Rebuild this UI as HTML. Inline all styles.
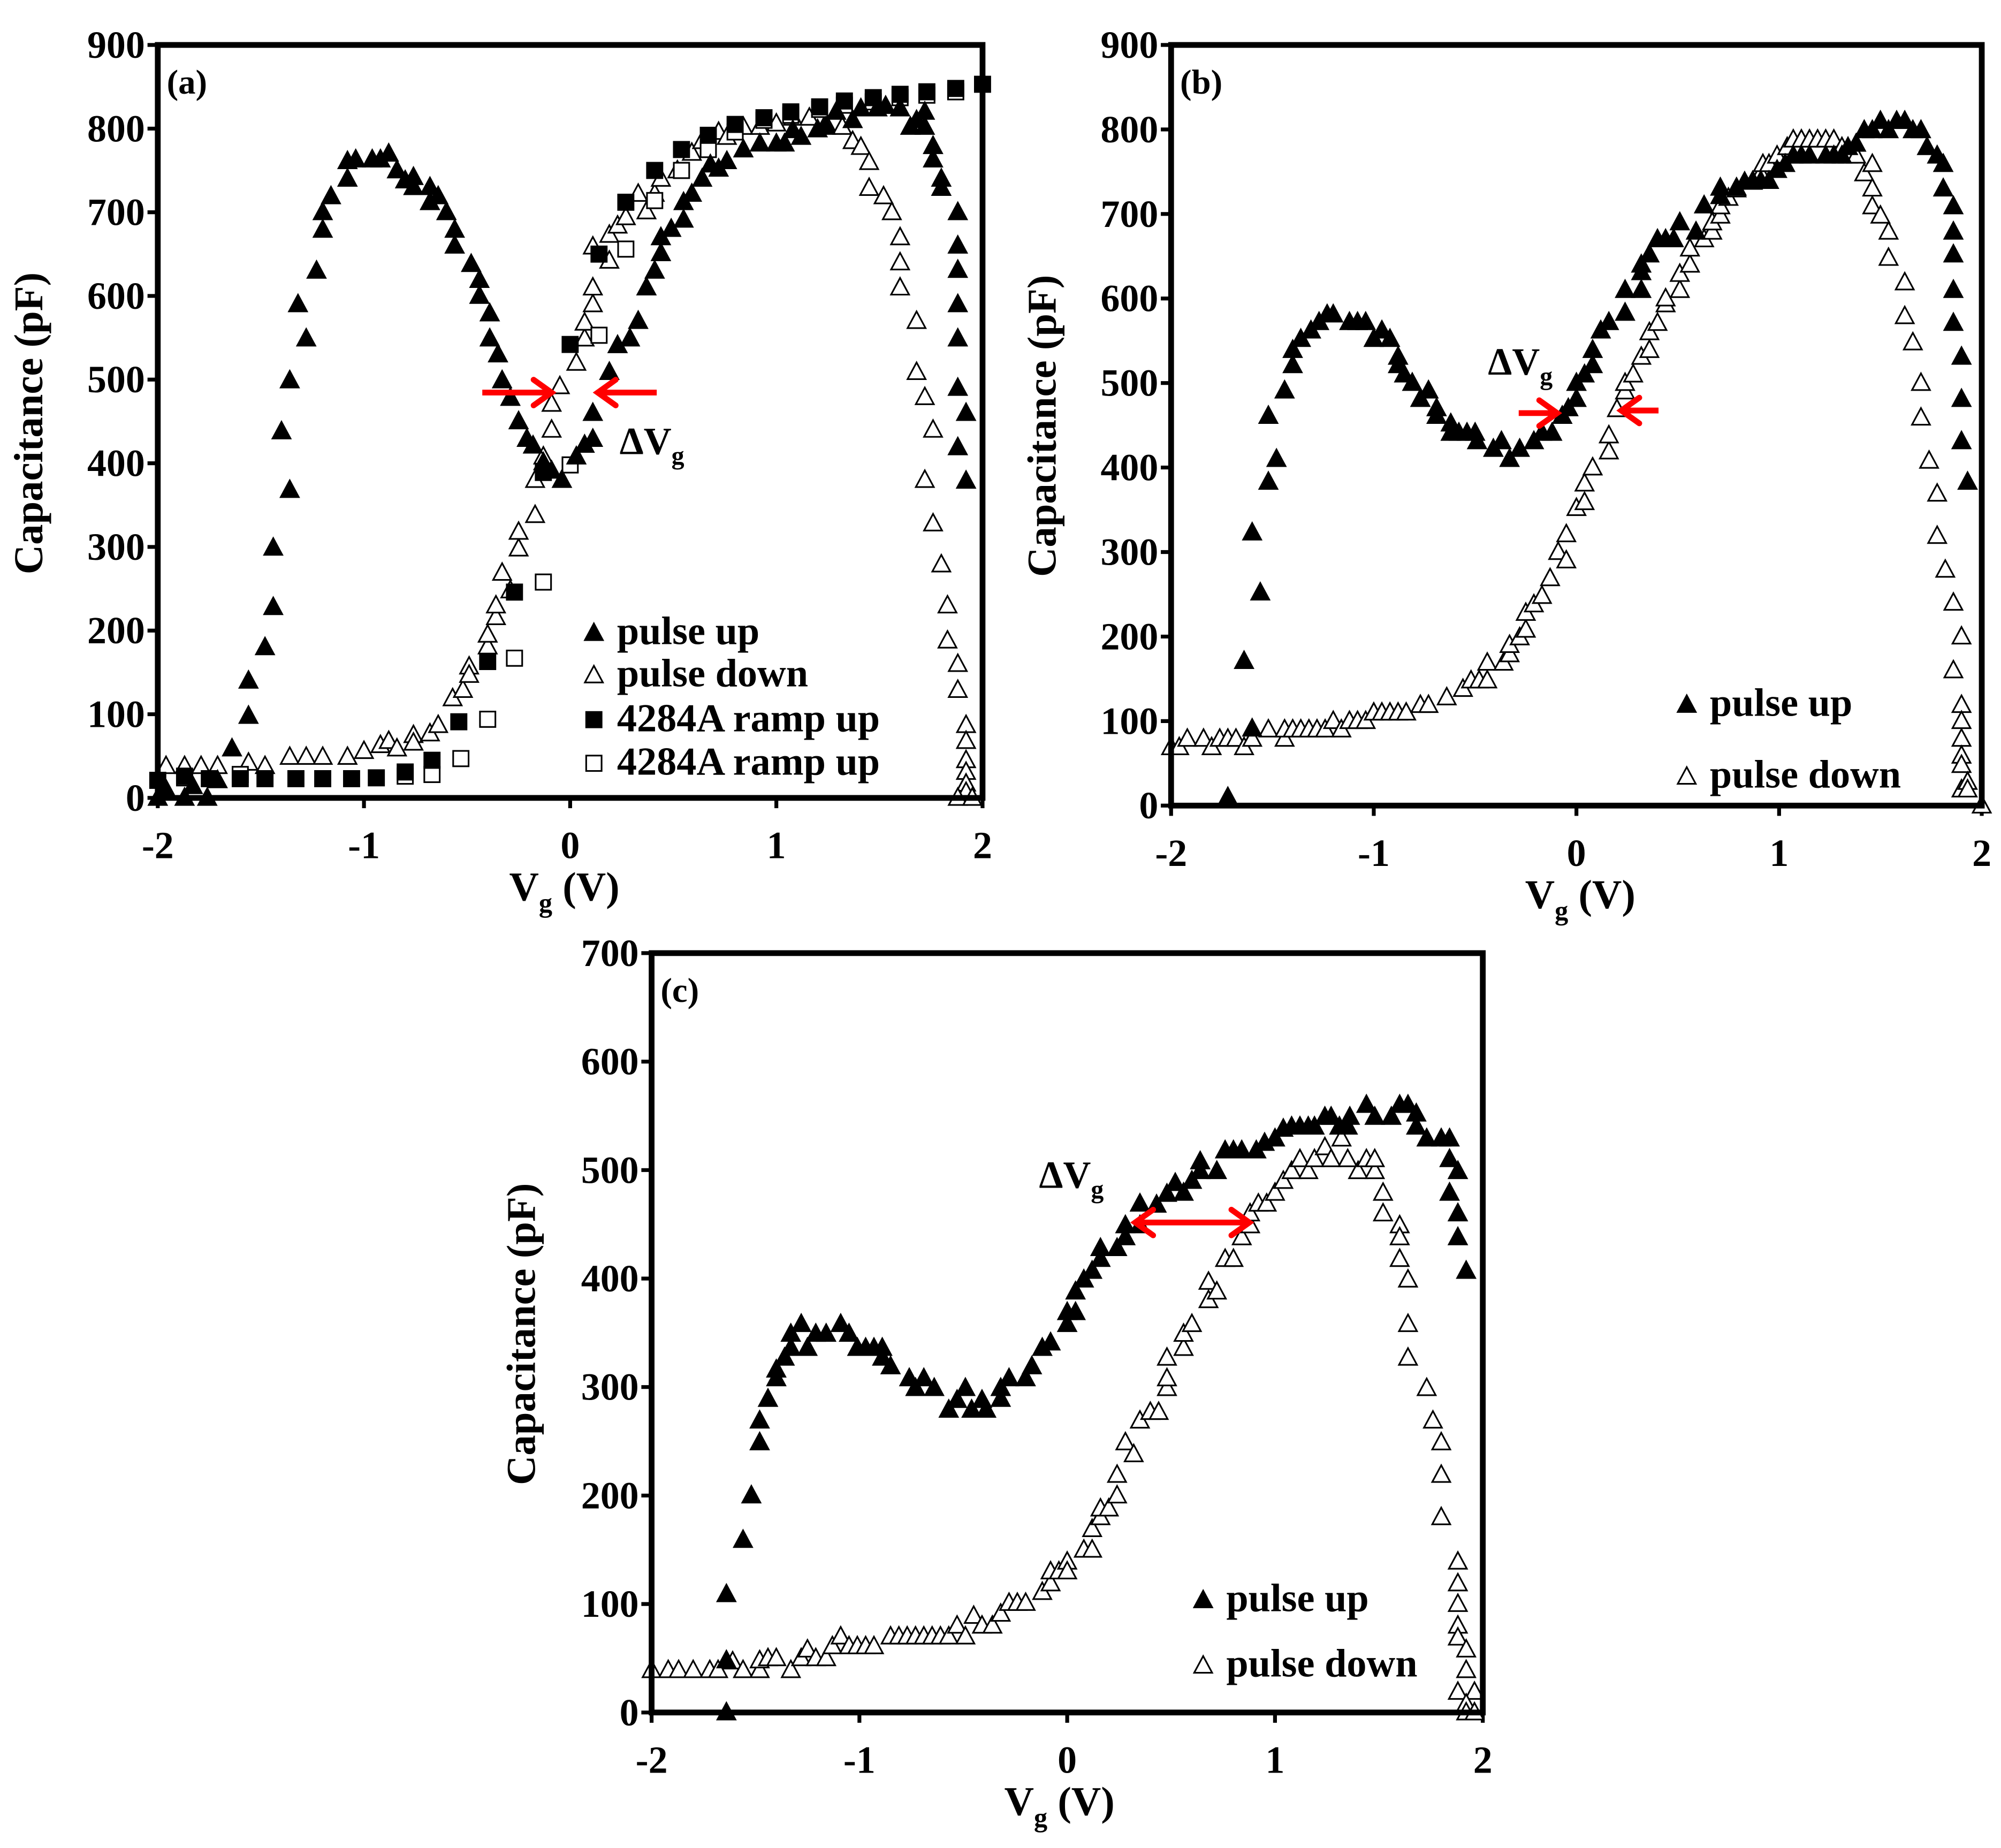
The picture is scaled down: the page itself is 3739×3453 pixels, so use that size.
<!DOCTYPE html>
<html><head><meta charset="utf-8"><style>
html,body{margin:0;padding:0;background:#fff;}
svg{display:block;}
text{font-family:"Liberation Serif","Times New Roman",serif;font-weight:bold;fill:#000;}
</style></head><body>
<svg id="fig" xmlns="http://www.w3.org/2000/svg" width="3739" height="3453" viewBox="0 0 1560 1440.6" font-family="Liberation Serif, serif" font-weight="bold"></svg>
<script>
// ---------- Panel (a) data ----------
const aUpV=[-2,-1.96,-1.87,-1.83,-1.76,-1.71,-1.64,-1.56,-1.56,-1.48,-1.44,-1.44,-1.36,-1.40,-1.36,-1.28,-1.32,-1.23,-1.20,-1.20,-1.16,-1.08,-1.08,-1.04,-0.96,-0.92,-0.88,-0.84,-0.80,-0.76,-0.76,-0.68,-0.68,-0.64,-0.60,-0.56,-0.56,-0.48,-0.44,-0.44,-0.39,-0.39,-0.35,-0.33,-0.29,-0.25,-0.21,-0.18,-0.13,-0.09,-0.04,0.03,0.07,0.11,0.11,0.19,0.23,0.29,0.33,0.37,0.41,0.44,0.44,0.49,0.55,0.55,0.59,0.64,0.68,0.72,0.76,0.84,0.92,1.0,1.04,1.08,1.12,1.20,1.24,1.29,1.37,1.41,1.49,1.53,1.60,1.65,1.68,1.72,1.72,1.76,1.76,1.80,1.80,1.88,1.88,1.88,1.88,1.88,1.88,1.88,1.92,1.92];
const aUpC=[0,10,0,14,0,21,59,98,140,180,228,299,368,438,499,549,590,630,679,700,719,740,761,763,763,763,770,750,738,742,730,730,712,719,700,679,660,638,619,600,579,549,530,499,478,450,429,421,401,391,380,408,422,429,460,509,541,549,570,610,630,651,670,680,691,712,722,740,757,752,761,775,782,782,782,798,790,799,802,820,810,824,824,827,824,802,810,820,802,779,763,740,729,700,660,631,590,549,490,419,460,379];
const aDnV=[-1.96,-1.87,-1.79,-1.71,-1.56,-1.48,-1.36,-1.28,-1.20,-1.08,-1.0,-0.92,-0.88,-0.84,-0.76,-0.76,-0.68,-0.64,-0.57,-0.52,-0.49,-0.49,-0.40,-0.40,-0.36,-0.36,-0.33,-0.29,-0.25,-0.25,-0.17,-0.17,-0.13,-0.09,-0.09,-0.05,0.03,0.07,0.07,0.11,0.11,0.11,0.19,0.19,0.23,0.27,0.33,0.37,0.41,0.44,0.52,0.59,0.64,0.72,0.76,0.84,0.92,1.0,1.08,1.16,1.24,1.32,1.37,1.41,1.45,1.45,1.52,1.56,1.60,1.60,1.60,1.68,1.68,1.72,1.76,1.72,1.76,1.80,1.83,1.83,1.88,1.88,1.92,1.92,1.92,1.92,1.92,1.92,1.88,1.95];
const aDnC=[38,38,38,38,42,38,49,49,49,49,56,63,68,59,75,66,77,87,119,129,157,147,181,195,216,230,269,248,298,318,338,380,408,440,471,492,520,549,568,590,610,659,642,673,684,694,722,701,722,740,750,771,785,796,790,802,802,806,813,813,806,802,785,778,760,729,719,700,670,640,610,570,509,479,440,380,328,279,230,188,160,129,87,68,45,31,17,7,0,0];
const aRampV=[-2,-1.87,-1.75,-1.60,-1.48,-1.33,-1.2,-1.06,-0.94,-0.80,-0.67,-0.54,-0.40,-0.27,-0.13,0.0,0.14,0.27,0.41,0.54,0.67,0.80,0.94,1.07,1.21,1.33,1.47,1.60,1.73,1.87,2.0];
const aRampC=[21,26,23,23,23,23,23,23,24,31,45,91,163,246,389,542,650,712,750,775,792,805,813,820,826,833,837,841,844,848,853];
const aRamp2V=[-1.87,-1.60,-0.80,-0.67,-0.53,-0.40,-0.27,-0.13,0,0.14,0.27,0.41,0.54,0.67,0.8,0.94,1.07,1.21,1.33,1.47,1.60,1.73,1.87];
const aRamp2C=[24,28,26,28,47,94,167,258,398,553,656,714,750,775,796,810,816,823,828,832,837,840,844];
// ---------- Panel (b) data ----------
const bUpV=[-1.72,-1.64,-1.60,-1.56,-1.60,-1.52,-1.48,-1.52,-1.44,-1.40,-1.40,-1.36,-1.31,-1.27,-1.23,-1.20,-1.12,-1.08,-1.04,-1.0,-0.96,-0.92,-0.88,-0.88,-0.85,-0.81,-0.77,-0.73,-0.69,-0.69,-0.62,-0.62,-0.58,-0.54,-0.50,-0.49,-0.41,-0.37,-0.33,-0.28,-0.21,-0.17,-0.12,-0.07,-0.04,0.0,0.0,0.04,0.08,0.08,0.12,0.16,0.24,0.24,0.32,0.32,0.32,0.36,0.40,0.44,0.48,0.51,0.59,0.63,0.71,0.71,0.79,0.83,0.87,0.91,0.95,0.99,1.03,1.07,1.11,1.15,1.23,1.27,1.31,1.34,1.38,1.42,1.46,1.50,1.54,1.58,1.62,1.66,1.70,1.73,1.78,1.81,1.81,1.86,1.86,1.86,1.86,1.86,1.90,1.90,1.90,1.93];
const bUpC=[10,171,91,252,323,383,410,461,491,521,539,552,562,572,581,581,572,572,572,552,562,552,531,521,510,500,481,491,470,461,452,441,441,441,441,431,422,431,410,422,431,441,441,461,470,481,500,510,521,539,562,572,583,610,610,631,640,652,670,670,670,690,679,710,721,731,731,738,739,739,739,752,759,769,769,769,769,769,769,779,783,799,799,810,799,810,810,799,799,779,769,759,730,709,679,652,610,571,531,481,431,383];
const bDnV=[-2,-1.96,-1.92,-1.84,-1.80,-1.76,-1.72,-1.68,-1.64,-1.60,-1.52,-1.44,-1.44,-1.40,-1.36,-1.32,-1.28,-1.24,-1.20,-1.16,-1.12,-1.08,-1.04,-1.0,-0.96,-0.92,-0.88,-0.84,-0.77,-0.73,-0.64,-0.56,-0.52,-0.48,-0.44,-0.44,-0.36,-0.33,-0.33,-0.28,-0.25,-0.25,-0.21,-0.17,-0.13,-0.09,-0.05,-0.05,0.0,0.04,0.04,0.08,0.16,0.16,0.20,0.24,0.24,0.28,0.32,0.36,0.36,0.40,0.44,0.44,0.51,0.51,0.56,0.56,0.63,0.67,0.67,0.71,0.71,0.75,0.79,0.87,0.91,0.92,0.95,0.99,1.04,1.07,1.11,1.15,1.19,1.23,1.27,1.31,1.34,1.38,1.42,1.46,1.46,1.46,1.50,1.54,1.54,1.62,1.62,1.66,1.70,1.70,1.74,1.78,1.78,1.82,1.86,1.90,1.86,1.90,1.90,1.90,1.90,1.90,1.90,1.93,1.93,2.0];
const bDnC=[69,69,79,79,69,79,79,79,69,79,90,79,90,90,90,90,90,90,100,90,100,100,100,110,110,110,110,110,119,119,128,138,148,148,148,169,169,179,190,199,208,228,238,248,269,300,290,321,352,359,381,400,419,438,469,490,500,510,531,539,560,571,593,600,610,629,640,659,670,679,690,698,709,719,729,738,748,759,759,769,779,788,788,788,788,788,788,779,769,769,748,759,730,709,698,679,648,619,579,548,500,459,408,369,319,279,240,200,160,119,100,79,59,48,19,28,19,0];
// ---------- Panel (c) data ----------
const cUpV=[-1.64,-1.64,-1.64,-1.56,-1.52,-1.48,-1.48,-1.44,-1.40,-1.40,-1.36,-1.33,-1.33,-1.28,-1.25,-1.21,-1.16,-1.09,-1.05,-1.01,-0.97,-0.93,-0.89,-0.89,-0.85,-0.76,-0.73,-0.69,-0.64,-0.57,-0.53,-0.49,-0.46,-0.41,-0.39,-0.32,-0.32,-0.28,-0.20,-0.17,-0.12,-0.08,0.0,0.0,0.04,0.04,0.08,0.12,0.16,0.16,0.24,0.28,0.28,0.35,0.35,0.43,0.48,0.52,0.56,0.60,0.64,0.64,0.72,0.76,0.80,0.84,0.91,0.95,1.0,1.04,1.08,1.12,1.16,1.19,1.24,1.27,1.31,1.35,1.36,1.44,1.48,1.56,1.60,1.64,1.68,1.68,1.73,1.80,1.84,1.84,1.84,1.88,1.88,1.88,1.92];
const cUpC=[0,48,109,159,200,249,269,289,308,316,327,336,349,358,336,349,349,358,349,336,336,336,336,327,319,308,299,308,299,279,288,299,279,288,279,289,299,308,308,319,336,341,358,369,369,388,399,407,418,428,428,438,449,449,469,468,478,488,479,490,499,508,499,518,518,518,518,525,529,538,540,540,540,540,549,549,540,540,549,560,549,549,560,560,552,540,529,529,529,510,479,499,460,438,407];
const cDnV=[-2,-1.92,-1.87,-1.80,-1.72,-1.68,-1.61,-1.56,-1.48,-1.48,-1.44,-1.40,-1.33,-1.28,-1.25,-1.21,-1.16,-1.13,-1.09,-1.05,-1.01,-0.97,-0.93,-0.85,-0.81,-0.77,-0.73,-0.69,-0.65,-0.61,-0.57,-0.53,-0.49,-0.45,-0.41,-0.36,-0.32,-0.28,-0.24,-0.20,-0.12,-0.08,-0.08,-0.04,0.0,0.0,0.08,0.12,0.12,0.16,0.16,0.20,0.24,0.24,0.28,0.32,0.35,0.40,0.44,0.48,0.48,0.48,0.56,0.56,0.60,0.68,0.68,0.72,0.76,0.80,0.84,0.88,0.88,0.92,0.96,1.0,1.04,1.08,1.12,1.16,1.19,1.24,1.27,1.32,1.35,1.40,1.44,1.48,1.48,1.52,1.52,1.60,1.60,1.60,1.64,1.64,1.64,1.73,1.76,1.80,1.80,1.80,1.88,1.88,1.88,1.88,1.88,1.92,1.92,1.88,1.96,1.92,1.92,1.96];
const cDnC=[39,39,39,39,39,39,47,39,39,48,50,50,39,50,58,50,50,61,70,61,61,61,61,70,70,70,70,70,70,70,70,80,70,89,80,80,91,101,101,101,111,119,130,130,139,130,150,150,169,180,188,188,200,219,249,238,269,277,277,299,308,327,336,349,358,380,397,388,418,418,438,449,460,469,469,479,490,499,510,499,510,521,510,529,510,499,510,499,510,479,460,449,438,418,399,358,327,299,269,249,219,180,139,119,100,80,69,58,39,19,19,8,0,0];
// tick labels
const aYTicks=[0,100,200,300,400,500,600,700,800,900];
const cYTicks=[0,100,200,300,400,500,600,700];
const xTicks=[-2,-1,0,1,2];
const xTickLabels=["-2","-1","0","1","2"];

const NS="http://www.w3.org/2000/svg";
const svg=document.getElementById('fig');
const FF='Liberation Serif, Times New Roman, serif';
function mk(tag,attrs,parent){const e=document.createElementNS(NS,tag);for(const k in attrs)e.setAttribute(k,attrs[k]);if(tag==='text'){e.setAttribute('font-family',FF);e.setAttribute('font-weight','bold');}(parent||svg).appendChild(e);return e;}

function panel(cfg){
  const g=mk('g',{});
  
  
  const X=v=>cfg.x0+(v+2)/4*(cfg.x1-cfg.x0);
  const Y=c=>cfg.y0-c/cfg.ymax*(cfg.y0-cfg.y1);
  cfg.yt.forEach(t=>{
    const l=mk('line',{x1:cfg.x0-8,x2:cfg.x0,y1:Y(t),y2:Y(t),stroke:'#000','stroke-width':3},g);
    
    
    const tx=mk('text',{x:cfg.x0-10,y:Y(t)+10,'text-anchor':'end','font-size':30},g);
    tx.textContent=t;
    
    
  });
  xTicks.forEach((t,i)=>{
    const l=mk('line',{x1:X(t),x2:X(t),y1:cfg.y0,y2:cfg.y0+8,stroke:'#000','stroke-width':3},g);
    
    
    const tx=mk('text',{x:X(t),y:cfg.y0+47,'text-anchor':'middle','font-size':30},g);
    tx.textContent=xTickLabels[i];
    
    
  });
  cfg.series.forEach(s=>{
    const sg=mk('g',{},g);
    
    
    s.v.forEach((v,i)=>{
      const px=X(v),py=Y(s.c[i]);
      let m;
      if(s.shape==='tri'){
        m=mk('polygon',{points:`${px},${py-7.5} ${px+7},${py+5.5} ${px-7},${py+5.5}`,fill:s.fill?'#000':'#fff',stroke:'#000','stroke-width':1.3},sg);
      }else{
        m=mk('rect',{x:px-6,y:py-6,width:12,height:12,fill:s.fill?'#000':'#fff',stroke:'#000','stroke-width':1.3},sg);
      }
      
      
    });
  });
  const f=mk('rect',{x:cfg.x0,y:cfg.y1,width:cfg.x1-cfg.x0,height:cfg.y0-cfg.y1,fill:'none',stroke:'#000','stroke-width':4.5},g);
  
  
  const pl=mk('text',{x:cfg.x0+7,y:cfg.y1+38,'font-size':27},g);
  pl.textContent=cfg.label;
  
  
  const xt=mk('text',{x:cfg.xtX,y:cfg.y0+80,'text-anchor':'middle','font-size':32},g);
  xt.innerHTML='V<tspan font-size="21" dy="9">g</tspan><tspan dy="-9"> (V)</tspan>';
  
  
  const yt=mk('text',{x:0,y:0,'text-anchor':'middle','font-size':32,transform:`translate(${cfg.ytX},${cfg.ytY}) rotate(-90)`},g);
  yt.textContent='Capacitance (pF)';
  
  
  cfg.legend.forEach(L=>{
    const lg=mk('g',{},g);
    
    
    const mx=L.mx,my=L.y-9;
    if(L.shape==='tri') mk('polygon',{points:`${mx},${my-7} ${mx+7},${my+6} ${mx-7},${my+6}`,fill:L.fill?'#000':'#fff',stroke:'#000','stroke-width':1.3},lg);
    else mk('rect',{x:mx-6,y:my-6,width:12,height:12,fill:L.fill?'#000':'#fff',stroke:'#000','stroke-width':1.3},lg);
    const t=mk('text',{x:mx+18,y:L.y,'font-size':31},lg);
    t.textContent=L.text;
  });
  const dv=mk('text',{x:cfg.dvX,y:cfg.dvY,'font-size':30},g);
  dv.innerHTML='ΔV<tspan font-size="20" dy="8">g</tspan>';
  
  
  cfg.arrows(g);
}
function arrow(g,x1,x2,y,both){
  const a=mk('g',{},g);
  
  
  mk('line',{x1:x1,x2:x2,y1:y,y2:y,stroke:'#f00','stroke-width':4.5},a);
  const d=x2>x1?1:-1;
  mk('polyline',{points:`${x2-d*14},${y-10} ${x2},${y} ${x2-d*14},${y+10}`,fill:'none',stroke:'#f00','stroke-width':4.5,'stroke-linecap':'round'},a);
  if(both) mk('polyline',{points:`${x1+d*14},${y-10} ${x1},${y} ${x1+d*14},${y+10}`,fill:'none',stroke:'#f00','stroke-width':4.5,'stroke-linecap':'round'},a);
}
panel({id:'a',x0:123,x1:766,y0:622,y1:35,ymax:900,yt:aYTicks,label:'(a)',xtX:440,ytX:33,ytY:330,
  series:[{name:'series-pulse-down',v:aDnV,c:aDnC,shape:'tri',fill:false},{name:'series-ramp-up-open',v:aRamp2V,c:aRamp2C,shape:'sq',fill:false},{name:'series-ramp-up-filled',v:aRampV,c:aRampC,shape:'sq',fill:true},{name:'series-pulse-up',v:aUpV,c:aUpC,shape:'tri',fill:true}],
  legend:[{mx:463,y:502,shape:'tri',fill:true,text:'pulse up'},{mx:463,y:535,shape:'tri',fill:false,text:'pulse down'},{mx:463,y:570,shape:'sq',fill:true,text:'4284A ramp up'},{mx:463,y:604,shape:'sq',fill:false,text:'4284A ramp up'}],
  dvX:483,dvY:354,arrows:g=>{arrow(g,376,430,306);arrow(g,512,466,306);}});
panel({id:'b',x0:913,x1:1545,y0:628,y1:35,ymax:900,yt:aYTicks,label:'(b)',xtX:1232,ytX:823,ytY:332,
  series:[{name:'series-pulse-down',v:bDnV,c:bDnC,shape:'tri',fill:false},{name:'series-pulse-up',v:bUpV,c:bUpC,shape:'tri',fill:true}],
  legend:[{mx:1315,y:558,shape:'tri',fill:true,text:'pulse up'},{mx:1315,y:614,shape:'tri',fill:false,text:'pulse down'}],
  dvX:1160,dvY:292,arrows:g=>{arrow(g,1184,1214,322);arrow(g,1293,1264,320);}});
panel({id:'c',x0:508,x1:1156,y0:1335,y1:743,ymax:700,yt:cYTicks,label:'(c)',xtX:826,ytX:417,ytY:1040,
  series:[{name:'series-pulse-down',v:cDnV,c:cDnC,shape:'tri',fill:false},{name:'series-pulse-up',v:cUpV,c:cUpC,shape:'tri',fill:true}],
  legend:[{mx:938,y:1256,shape:'tri',fill:true,text:'pulse up'},{mx:938,y:1307,shape:'tri',fill:false,text:'pulse down'}],
  dvX:810,dvY:926,arrows:g=>{arrow(g,885,974,953,true);}});
</script>
</body></html>
